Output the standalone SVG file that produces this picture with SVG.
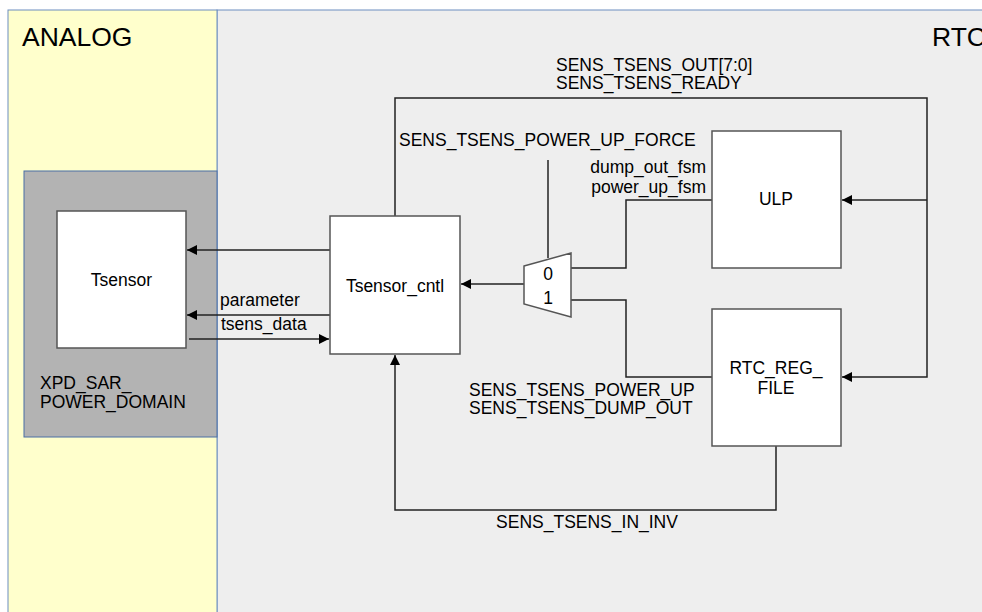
<svg xmlns="http://www.w3.org/2000/svg" width="982" height="612" viewBox="0 0 982 612">
<defs>
<style>
text{font-family:"Liberation Sans",Arial,sans-serif;fill:#000}
.lbl{font-size:17.5px}
.big{font-size:26.5px}
.box{fill:#fff;stroke:#555;stroke-width:1.5}
.wire{fill:none;stroke:#222;stroke-width:1.5}
</style>
<marker id="ah" viewBox="0 0 10 10" refX="10" refY="5" markerWidth="10" markerHeight="10" markerUnits="userSpaceOnUse" orient="auto">
<path d="M0,0 L10,5 L0,10 Z" fill="#000"/>
</marker>
</defs>
<rect x="0" y="0" width="982" height="612" fill="#fff"/>
<g id="rtc-region">
<rect x="217" y="10" width="770" height="610" fill="#EEEEEE" stroke="#6C8EBF" stroke-width="1"/>
<text class="big" x="932" y="46">RTC</text>
</g>
<g id="analog-region">
<rect x="8" y="10" width="209" height="610" fill="#FFFFCC" stroke="#6C8EBF" stroke-width="1"/>
<text class="big" x="22" y="46">ANALOG</text>
</g>
<g id="xpd-domain">
<rect x="24" y="171" width="193" height="266" fill="#B3B3B3" stroke="#4A6FA5" stroke-width="1"/>
<text class="lbl" x="40" y="389">XPD_SAR_</text>
<text class="lbl" x="40" y="408">POWER_DOMAIN</text>
</g>
<g id="connectors">
<line class="wire" x1="330" y1="250" x2="187" y2="250" marker-end="url(#ah)"/>
<line class="wire" x1="330" y1="315" x2="187" y2="315" marker-end="url(#ah)"/>
<line class="wire" x1="189" y1="339" x2="329" y2="339" marker-end="url(#ah)"/>
<line class="wire" x1="524" y1="284" x2="461" y2="284" marker-end="url(#ah)"/>
<polyline class="wire" points="712,200 626,200 626,268 571,268"/>
<polyline class="wire" points="712,377 626,377 626,300 571,300"/>
<line class="wire" x1="548" y1="160" x2="548" y2="258"/>
<polyline class="wire" points="395,216 395,98 927,98 927,377 842,377" marker-end="url(#ah)"/>
<polyline class="wire" points="927,200 842,200" marker-end="url(#ah)"/>
<polyline class="wire" points="776,446 776,510 395,510 395,355" marker-end="url(#ah)"/>
<text class="lbl" x="556" y="70.5">SENS_TSENS_OUT[7:0]</text>
<text class="lbl" x="556" y="89">SENS_TSENS_READY</text>
<text class="lbl" x="399" y="146">SENS_TSENS_POWER_UP_FORCE</text>
<text class="lbl" x="706" y="173" text-anchor="end">dump_out_fsm</text>
<text class="lbl" x="706" y="192.5" text-anchor="end">power_up_fsm</text>
<text class="lbl" x="220" y="306">parameter</text>
<text class="lbl" x="221" y="330">tsens_data</text>
<text class="lbl" x="469" y="396">SENS_TSENS_POWER_UP</text>
<text class="lbl" x="469" y="414">SENS_TSENS_DUMP_OUT</text>
<text class="lbl" x="587" y="528" text-anchor="middle">SENS_TSENS_IN_INV</text>
</g>
<g id="tsensor">
<rect class="box" x="57" y="211" width="129" height="137"/>
<text class="lbl" x="121.5" y="286" text-anchor="middle">Tsensor</text>
</g>
<g id="tsensor-cntl">
<rect class="box" x="330" y="216" width="130" height="138"/>
<text class="lbl" x="395" y="292" text-anchor="middle">Tsensor_cntl</text>
</g>
<g id="mux">
<polygon class="box" points="524,266 571,253 571,317 524,304"/>
<text class="lbl" x="548" y="280" text-anchor="middle">0</text>
<text class="lbl" x="548" y="304" text-anchor="middle">1</text>
</g>
<g id="ulp">
<rect class="box" x="712" y="131" width="129" height="137"/>
<text class="lbl" x="776" y="205" text-anchor="middle">ULP</text>
</g>
<g id="rtc-reg-file">
<rect class="box" x="712" y="309" width="129" height="137"/>
<text class="lbl" x="776" y="374" text-anchor="middle">RTC_REG_</text>
<text class="lbl" x="776" y="394" text-anchor="middle">FILE</text>
</g>
</svg>
